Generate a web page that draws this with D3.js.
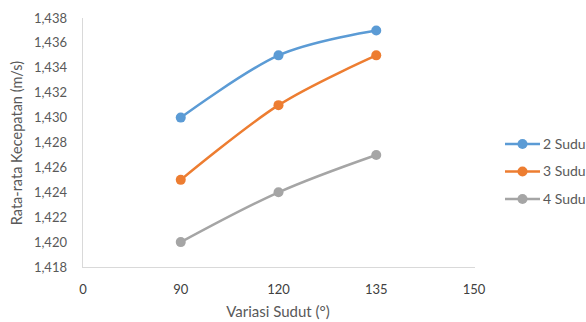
<!DOCTYPE html>
<html>
<head>
<meta charset="utf-8">
<script src="https://cdn.jsdelivr.net/npm/d3@7"></script>
<style>
  html, body { margin: 0; padding: 0; background: #fff; }
  svg { display: block; }
  text { font-family: Lato, "Open Sans", sans-serif; fill: #595959; }
</style>
</head>
<body>
<svg id="chart" width="586" height="322"></svg>
<script>
// Axis categories and tick values
const xLabels = ["0", "90", "120", "135", "150"];
const pointX = ["90", "120", "135"];
const yTicks = [1.418, 1.420, 1.422, 1.424, 1.426, 1.428, 1.430, 1.432, 1.434, 1.436, 1.438];

// Series values (average velocity, m/s)
const seriesNames = ["2 Sudu", "3 Sudu", "4 Sudu"];
const sudu2 = [1.430, 1.435, 1.437];
const sudu3 = [1.425, 1.431, 1.435];
const sudu4 = [1.420, 1.424, 1.427];
const seriesColors = ["#5B9BD5", "#ED7D31", "#A5A5A5"];

const series = [sudu2, sudu3, sudu4].map((vals, i) => ({
  name: seriesNames[i],
  color: seriesColors[i],
  points: vals.map((v, j) => ({ x: pointX[j], y: v }))
}));

const svg = d3.select("#chart");
const fmt = v => d3.format(".3f")(v).replace(".", ",");

const x = d3.scalePoint().domain(xLabels).range([83, 474]);
const y = d3.scaleLinear().domain([1.418, 1.438]).range([267, 18]);

// Axis lines
svg.append("line")
  .attr("x1", 82.5).attr("x2", 82.5).attr("y1", 18).attr("y2", 267.5)
  .attr("stroke", "#D9D9D9").attr("stroke-width", 1);
svg.append("line")
  .attr("x1", 82).attr("x2", 475).attr("y1", 267.5).attr("y2", 267.5)
  .attr("stroke", "#D9D9D9").attr("stroke-width", 1);

// Y tick labels
svg.append("g").selectAll("text").data(yTicks).join("text")
  .attr("x", 67).attr("y", d => y(d))
  .attr("dy", "0.35em")
  .attr("text-anchor", "end")
  .attr("font-size", 13)
  .text(fmt);

// X tick labels
svg.append("g").selectAll("text").data(xLabels).join("text")
  .attr("x", d => x(d)).attr("y", 289)
  .attr("dy", "0.35em")
  .attr("text-anchor", "middle")
  .attr("font-size", 13)
  .style("fill", "#404040")
  .text(d => d);

// Axis titles
svg.append("text")
  .attr("x", 278).attr("y", 312)
  .attr("dy", "0.35em")
  .attr("text-anchor", "middle")
  .attr("font-size", 15)
  .text("Variasi Sudut (°)");
svg.append("text")
  .attr("transform", "translate(17,143) rotate(-90)")
  .attr("dy", "0.35em")
  .attr("text-anchor", "middle")
  .attr("font-size", 14.5)
  .text("Rata-rata Kecepatan (m/s)");

// Smoothed lines and markers
const line = d3.line()
  .x(d => x(d.x)).y(d => y(d.y))
  .curve(d3.curveCatmullRom.alpha(0));

const g = svg.append("g").selectAll("g").data(series).join("g");
g.append("path")
  .attr("d", d => line(d.points))
  .attr("fill", "none")
  .attr("stroke", d => d.color)
  .attr("stroke-width", 2.5)
  .attr("stroke-linecap", "round");
g.selectAll("circle").data(d => d.points.map(p => ({ ...p, color: d.color }))).join("circle")
  .attr("cx", d => x(d.x)).attr("cy", d => y(d.y))
  .attr("r", 5)
  .attr("fill", d => d.color);

// Legend
const legend = svg.append("g").selectAll("g").data(series).join("g")
  .attr("transform", (d, i) => `translate(505,${144 + i * 27.5})`);
legend.append("line")
  .attr("x1", 0).attr("x2", 35)
  .attr("stroke", d => d.color).attr("stroke-width", 2.5);
legend.append("circle")
  .attr("cx", 17.5).attr("r", 5)
  .attr("fill", d => d.color);
legend.append("text")
  .attr("x", 38).attr("dy", "0.35em")
  .attr("font-size", 14)
  .text(d => d.name);
</script>
</body>
</html>
